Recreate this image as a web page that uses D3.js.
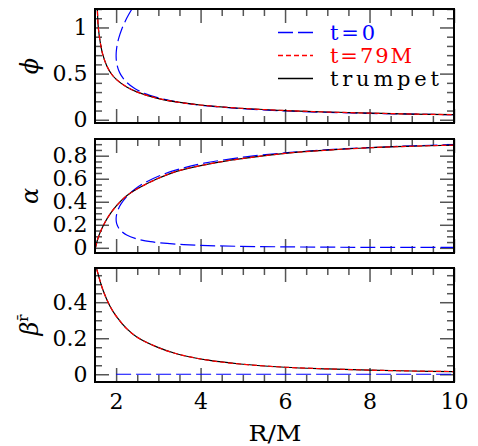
<!DOCTYPE html>
<html>
<head>
<meta charset="utf-8">
<script src="https://cdn.jsdelivr.net/npm/d3@7"></script>
<style>
  html, body { margin: 0; padding: 0; background: #fff; }
  svg { display: block; }
  text { font-family: "DejaVu Serif", serif; }
</style>
</head>
<body>
<div id="chart"></div>
<script>
// Radial coordinate R/M shared by all three panels
const xDomain = [1.5, 10];
const xMajorTicks = [2, 4, 6, 8, 10];

// Panel 1: conformal factor phi
const phiT0R  = [2.375, 2.25, 2.133, 2.064, 2.025, 2.0056, 2.0, 2.0045, 2.017, 2.057, 2.1125, 2.25, 2.45, 2.667, 3.125, 3.6, 4.083, 5.063, 6.05, 7.042, 8.036, 9.031, 10.03];
const phiT0   = [1.2, 1.099, 0.981, 0.887, 0.811, 0.747, 0.693, 0.647, 0.606, 0.539, 0.486, 0.405, 0.336, 0.288, 0.223, 0.182, 0.154, 0.118, 0.095, 0.080, 0.069, 0.061, 0.054];
const phiT79R = [1.54, 1.555, 1.578, 1.618, 1.68, 1.777, 1.895, 2.01, 2.25, 2.49, 2.96, 3.43, 3.99, 4.93, 6.0, 7.0, 8.0, 9.0, 10.0];
const phiT79  = [1.35, 1.2, 1.0, 0.857, 0.713, 0.586, 0.493, 0.435, 0.355, 0.302, 0.235, 0.193, 0.16, 0.125, 0.1, 0.084, 0.072, 0.062, 0.055];
const phiTrR  = [1.54, 1.555, 1.578, 1.618, 1.68, 1.777, 1.895, 2.01, 2.25, 2.49, 2.96, 3.43, 3.99, 4.93, 6.0, 7.0, 8.0, 9.0, 10.0];
const phiTr   = [1.35, 1.2, 1.0, 0.857, 0.713, 0.586, 0.493, 0.435, 0.355, 0.302, 0.235, 0.193, 0.16, 0.125, 0.1, 0.084, 0.072, 0.062, 0.055];

// Panel 2: lapse alpha
const alphaT0R = [10.03, 8.18, 6.05, 4.41, 3.6, 2.817, 2.45, 2.25, 2.133, 2.064, 2.025, 2.0056, 2.0, 2.0045, 2.017, 2.057, 2.1125, 2.25, 2.45, 2.667, 3.125, 3.6, 4.083, 5.063, 6.05, 7.042, 8.036, 9.031, 10.03];
const alphaT0  = [0.003, 0.004, 0.008, 0.017, 0.028, 0.053, 0.082, 0.111, 0.141, 0.170, 0.198, 0.224, 0.25, 0.274, 0.298, 0.340, 0.379, 0.444, 0.510, 0.563, 0.640, 0.694, 0.735, 0.790, 0.826, 0.852, 0.871, 0.886, 0.897];
const alphaT79R = [1.51, 1.56, 1.618, 1.737, 1.855, 2.01, 2.25, 2.49, 2.96, 3.43, 4.18, 4.93, 6.0, 7.0, 8.0, 9.0, 10.0];
const alphaT79  = [0.0, 0.07, 0.13, 0.222, 0.293, 0.366, 0.452, 0.51, 0.597, 0.664, 0.727, 0.772, 0.82, 0.848, 0.869, 0.882, 0.892];
const alphaTrR  = [1.51, 1.56, 1.618, 1.737, 1.855, 2.01, 2.25, 2.49, 2.96, 3.43, 4.18, 4.93, 6.0, 7.0, 8.0, 9.0, 10.0];
const alphaTr   = [0.0, 0.07, 0.13, 0.222, 0.293, 0.366, 0.452, 0.51, 0.597, 0.664, 0.727, 0.772, 0.82, 0.848, 0.869, 0.882, 0.892];

// Panel 3: shift component beta^rbar
const betaT0R  = [2.0, 10.0];
const betaT0   = [0.0, 0.0];
const betaT79R = [1.5, 1.555, 1.697, 1.855, 2.01, 2.25, 2.49, 2.96, 3.43, 4.18, 4.93, 6.0, 7.0, 8.0, 9.0, 10.0];
const betaT79  = [0.625, 0.572, 0.462, 0.378, 0.320, 0.253, 0.207, 0.152, 0.114, 0.078, 0.057, 0.039, 0.030, 0.023, 0.018, 0.015];
const betaTrR  = [1.5, 1.555, 1.697, 1.855, 2.01, 2.25, 2.49, 2.96, 3.43, 4.18, 4.93, 6.0, 7.0, 8.0, 9.0, 10.0];
const betaTr   = [0.625, 0.572, 0.462, 0.378, 0.320, 0.253, 0.207, 0.152, 0.114, 0.078, 0.057, 0.039, 0.030, 0.023, 0.018, 0.0145];

// Legend entries
const legendLabels = ["t=0", "t=79M", "trumpet"];
const legendColors = ["#0000ff", "#ff0000", "#000000"];
const legendDashes = ["15,5", "5,3", null];
const legendWidths = [45, 82, 109];

const W = 478, H = 446;
const left = 95, right = 454;

const svg = d3.select("#chart").append("svg")
  .attr("width", W).attr("height", H)
  .attr("viewBox", `0 0 ${W} ${H}`);
svg.append("rect").attr("width", W).attr("height", H).attr("fill", "#fff");

const x = d3.scaleLinear().domain(xDomain).range([left, right]);
const xMinor = d3.range(2, 10.01, 0.5).filter(v => xMajorTicks.indexOf(v) < 0);

const panels = [
  {
    top: 9, bottom: 123, domain: [-0.035, 1.2],
    minor: d3.range(0, 1.201, 0.1), major: [0, 0.5, 1], fmt: d3.format("~g"),
    title: "ϕ",
    series: [
      { R: phiT0R, v: phiT0, color: "#0000ff", dash: "15,5" },
      { R: phiTrR, v: phiTr, color: "#000000", dash: null },
      { R: phiT79R, v: phiT79, color: "#ff0000", dash: "5,3" }
    ]
  },
  {
    top: 139, bottom: 253, domain: [-0.045, 0.945],
    minor: d3.range(0, 0.901, 0.05), major: [0, 0.2, 0.4, 0.6, 0.8], fmt: d3.format("~g"),
    title: "α",
    series: [
      { R: alphaT0R, v: alphaT0, color: "#0000ff", dash: "15,5" },
      { R: alphaTrR, v: alphaTr, color: "#000000", dash: null },
      { R: alphaT79R, v: alphaT79, color: "#ff0000", dash: "5,3" }
    ]
  },
  {
    top: 268, bottom: 382, domain: [-0.043, 0.59],
    minor: d3.range(0, 0.551, 0.05), major: [0, 0.2, 0.4], fmt: d3.format("~g"),
    title: "beta",
    series: [
      { R: betaT0R, v: betaT0, color: "#0000ff", dash: "15,5" },
      { R: betaTrR, v: betaTr, color: "#000000", dash: null },
      { R: betaT79R, v: betaT79, color: "#ff0000", dash: "5,3" }
    ]
  }
];

const majorLen = 14, minorLen = 7, tickColor = "#555";

function styleAxis(g) {
  g.select(".domain").remove();
  g.selectAll(".tick line").attr("stroke", tickColor).attr("stroke-width", 1.5);
  g.selectAll("text").attr("font-family", "DejaVu Serif, serif").attr("font-size", 22).attr("fill", "#000");
}

panels.forEach((p, i) => {
  const y = d3.scaleLinear().domain(p.domain).range([p.bottom, p.top]);
  const g = svg.append("g");
  const clipId = "clip" + i;
  svg.append("clipPath").attr("id", clipId)
    .append("rect").attr("x", left).attr("y", p.top)
    .attr("width", right - left).attr("height", p.bottom - p.top);

  // ticks on all four sides, pointing inward
  const minorY = p.minor.filter(v => !p.major.some(m => Math.abs(m - v) < 1e-6));
  g.append("g").attr("transform", `translate(${left},0)`)
    .call(d3.axisLeft(y).tickValues(minorY).tickSize(-minorLen).tickFormat("")).call(styleAxis);
  g.append("g").attr("transform", `translate(${left},0)`)
    .call(d3.axisLeft(y).tickValues(p.major).tickSize(-majorLen).tickPadding(7.5).tickFormat(p.fmt)).call(styleAxis);
  g.append("g").attr("transform", `translate(${right},0)`)
    .call(d3.axisRight(y).tickValues(minorY).tickSize(-minorLen).tickFormat("")).call(styleAxis);
  g.append("g").attr("transform", `translate(${right},0)`)
    .call(d3.axisRight(y).tickValues(p.major).tickSize(-majorLen).tickFormat("")).call(styleAxis);

  g.append("g").attr("transform", `translate(0,${p.top})`)
    .call(d3.axisTop(x).tickValues(xMinor).tickSize(-minorLen).tickFormat("")).call(styleAxis);
  g.append("g").attr("transform", `translate(0,${p.top})`)
    .call(d3.axisTop(x).tickValues(xMajorTicks).tickSize(-majorLen).tickFormat("")).call(styleAxis);
  g.append("g").attr("transform", `translate(0,${p.bottom})`)
    .call(d3.axisBottom(x).tickValues(xMinor).tickSize(-minorLen).tickFormat("")).call(styleAxis);
  g.append("g").attr("transform", `translate(0,${p.bottom})`)
    .call(d3.axisBottom(x).tickValues(xMajorTicks).tickSize(-majorLen).tickPadding(11)
      .tickFormat(i === 2 ? d3.format("d") : "")).call(styleAxis);

  // curves
  const curves = g.append("g").attr("clip-path", `url(#${clipId})`);
  p.series.forEach(s => {
    const pts = s.R.map((r, k) => [r, s.v[k]]);
    const line = d3.line().x(d => x(d[0])).y(d => y(d[1])).curve(d3.curveCatmullRom.alpha(0.5));
    curves.append("path").attr("d", line(pts))
      .attr("fill", "none").attr("stroke", s.color).attr("stroke-width", 1.2)
      .attr("stroke-dasharray", s.dash);
  });

  // frame
  g.append("rect").attr("x", left).attr("y", p.top)
    .attr("width", right - left).attr("height", p.bottom - p.top)
    .attr("fill", "none").attr("stroke", "#000").attr("stroke-width", 2);

  // rotated y title
  const cy = (p.top + p.bottom) / 2;
  const t = g.append("text")
    .attr("transform", `translate(38,${cy}) rotate(-90)`)
    .attr("text-anchor", "middle")
    .attr("font-size", 24).attr("font-style", "italic").attr("fill", "#000");
  if (p.title === "beta") {
    t.append("tspan").text("β");
    t.append("tspan").attr("font-size", 15).attr("dy", -10).attr("font-style", "normal").text("r\u0304");
  } else {
    t.text(p.title);
  }
});

// x axis title
svg.append("text").attr("x", 275).attr("y", 441)
  .attr("text-anchor", "middle").attr("font-size", 23)
  .attr("textLength", 53).attr("lengthAdjust", "spacingAndGlyphs")
  .attr("fill", "#000").text("R/M");

// legend
const legend = svg.append("g");
legendLabels.forEach((lab, k) => {
  const ly = 32.5 + k * 23;
  legend.append("line").attr("x1", 278).attr("x2", 313).attr("y1", ly).attr("y2", ly)
    .attr("stroke", legendColors[k]).attr("stroke-width", 1.4)
    .attr("stroke-dasharray", legendDashes[k]);
  legend.append("text").attr("x", 330).attr("y", ly + 7.5)
    .attr("font-size", 21).attr("fill", legendColors[k])
    .attr("textLength", legendWidths[k]).attr("lengthAdjust", "spacing")
    .text(lab);
});
</script>
</body>
</html>
